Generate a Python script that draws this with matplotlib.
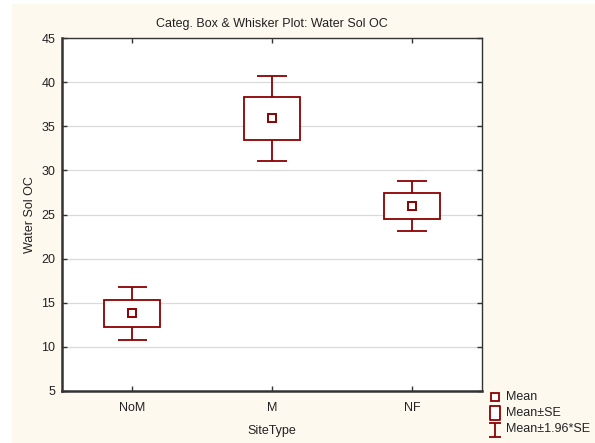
import matplotlib.pyplot as plt
from matplotlib.lines import Line2D
from matplotlib.patches import Rectangle
from matplotlib.path import Path

plt.rcParams['font.family'] = ['Liberation Sans', 'DejaVu Sans']

# group means and standard errors of water soluble OC
sites = ["NoM", "M", "NF"]
means = [13.8, 35.9, 25.95]
se = [1.53, 2.45, 1.45]

red = "#8b0000"
cream = "#fdf9ef"
txt = "#222222"

fig = plt.figure(figsize=(5.95, 4.43), dpi=100)
fig.patch.set_facecolor("white")
fig.add_artist(Rectangle((12 / 595, 0.0), 1.0, 1 - 4 / 443, transform=fig.transFigure,
                         facecolor=cream, edgecolor="none", zorder=-10))

ax = fig.add_axes([0.1047, 0.118, 0.705, 0.7955])
ax.set_facecolor("white")

x = list(range(len(sites)))
lo = [m - s for m, s in zip(means, se)]
hi = [m + s for m, s in zip(means, se)]
lo2 = [m - 1.96 * s for m, s in zip(means, se)]
hi2 = [m + 1.96 * s for m, s in zip(means, se)]

# whiskers (mean +/- 1.96*SE)
ax.vlines(x, lo2, lo, color=red, lw=1.3, zorder=3)
ax.vlines(x, hi, hi2, color=red, lw=1.3, zorder=3)
ax.hlines(lo2, [i - 0.105 for i in x], [i + 0.105 for i in x], color=red, lw=1.3, zorder=3)
ax.hlines(hi2, [i - 0.105 for i in x], [i + 0.105 for i in x], color=red, lw=1.3, zorder=3)

# boxes (mean +/- SE)
ax.bar(x, [2 * s for s in se], bottom=lo, width=0.4, color="white",
       edgecolor=red, linewidth=1.3, zorder=3)

# means
ax.plot(x, means, ls="none", marker="s", ms=5.5, mfc="white", mec=red, mew=1.4, zorder=4)

ax.set_xlim(-0.5, 2.5)
ax.set_ylim(5, 45)
ax.set_yticks(range(5, 46, 5))
ax.set_xticks(x)
ax.set_xticklabels(sites)
ax.yaxis.grid(True, color="#dadada", lw=0.9)
ax.set_axisbelow(True)

ax.tick_params(direction="in", length=3.5, width=1, color="#333333",
               labelsize=9, labelcolor=txt, top=True, right=True, pad=5)
ax.tick_params(axis="x", pad=8)
for side in ["left", "bottom"]:
    ax.spines[side].set_linewidth(1.8)
    ax.spines[side].set_color("#333333")
for side in ["top", "right"]:
    ax.spines[side].set_linewidth(1.0)
    ax.spines[side].set_color("#333333")

ax.set_title("Categ. Box & Whisker Plot: Water Sol OC", fontsize=9, color=txt, pad=8)
ax.set_xlabel("SiteType", fontsize=9, color=txt, labelpad=8)
ax.set_ylabel("Water Sol OC", fontsize=9, color=txt, labelpad=4)

# legend drawn in figure coordinates
ibeam = Path([(-0.9, -1), (0.9, -1), (0, -1), (0, 1), (-0.9, 1), (0.9, 1)],
             [Path.MOVETO, Path.LINETO, Path.MOVETO, Path.LINETO, Path.MOVETO, Path.LINETO])
tall_box = Path([(-0.75, -1), (0.75, -1), (0.75, 1), (-0.75, 1), (-0.75, -1)],
                [Path.MOVETO, Path.LINETO, Path.LINETO, Path.LINETO, Path.CLOSEPOLY])
rows = [("Mean", "s", 5.5), ("Mean±SE", tall_box, 10), ("Mean±1.96*SE", ibeam, 9.5)]
for k, (label, mk, size) in enumerate(rows):
    yy = 1 - (396.5 + 16.5 * k) / 443
    fig.add_artist(Line2D([495 / 595], [yy], transform=fig.transFigure, ls="none",
                          marker=mk, ms=size, mfc="white", mec=red, mew=1.3))
    fig.text(506 / 595, yy, label, fontsize=9, color=txt, va="center", ha="left")

fig.savefig("out.png", dpi=100)
